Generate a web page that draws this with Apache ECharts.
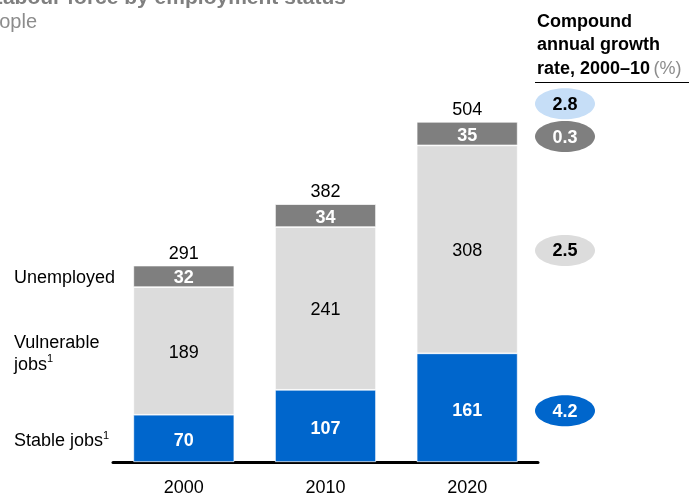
<!DOCTYPE html>
<html>
<head>
<meta charset="utf-8">
<script src="https://cdn.jsdelivr.net/npm/echarts@6/dist/echarts.min.js"></script>
<style>
  html, body { margin: 0; padding: 0; background: #fff; }
  #main { width: 689px; height: 493px; }
</style>
</head>
<body>
<div id="main"></div>
<script>
var years = ['2000', '2010', '2020'];
var stable = [70, 107, 161];
var vulnerable = [189, 241, 308];
var unemployed = [32, 34, 35];
var totals = [291, 382, 504];
// CAGR, bottom to top: stable, vulnerable, unemployed, total
var growth = ['4.2', '2.5', '0.3', '2.8'];

var FONT = 'Liberation Sans, Arial, sans-serif';
var BLUE = '#0066cc';
var LIGHT = '#dcdcdc';
var DARK = '#7f7f7f';
var PALE = '#c6def7';

var chart = echarts.init(document.getElementById('main'));

var option = {
  animation: false,
  textStyle: { fontFamily: FONT },
  grid: { left: 113, width: 425, top: 57, bottom: 31, outerBoundsMode: 'none', containLabel: false },
  xAxis: {
    type: 'category',
    data: years,
    axisLine: { lineStyle: { color: '#000', width: 3 } },
    axisTick: { show: false },
    axisLabel: { color: '#000', fontSize: 18, margin: 17, fontFamily: FONT }
  },
  yAxis: {
    type: 'value',
    min: 0,
    max: 600,
    show: false,
    splitLine: { show: false }
  },
  series: [
    {
      name: 'Stable jobs', type: 'bar', stack: 'a', barWidth: 101,
      data: stable,
      itemStyle: { color: BLUE, borderColor: '#fff', borderWidth: 0.7 },
      label: { show: true, position: 'inside', offset: [0, 3], color: '#fff', fontWeight: 'bold', fontSize: 18, fontFamily: FONT }
    },
    {
      name: 'Vulnerable jobs', type: 'bar', stack: 'a',
      data: vulnerable,
      itemStyle: { color: LIGHT, borderColor: '#fff', borderWidth: 0.7 },
      label: { show: true, position: 'inside', offset: [0, 2], color: '#000', fontSize: 18, fontFamily: FONT }
    },
    {
      name: 'Unemployed', type: 'bar', stack: 'a',
      data: unemployed,
      itemStyle: { color: DARK, borderColor: '#fff', borderWidth: 0.7 },
      label: { show: true, position: 'inside', offset: [0, 2], color: '#fff', fontWeight: 'bold', fontSize: 18, fontFamily: FONT }
    },
    {
      name: 'Total', type: 'bar', stack: 'a',
      data: totals.map(function () { return 0; }),
      itemStyle: { color: 'transparent' },
      label: {
        show: true, position: 'top', distance: 3, color: '#000', fontSize: 18, fontFamily: FONT,
        formatter: function (p) { return totals[p.dataIndex]; }
      }
    }
  ]
};
chart.setOption(option);

function yPix(v) {
  return chart.convertToPixel({ gridIndex: 0 }, [0, v])[1];
}

// segment centres for the first and last bar
var first = 0, last = years.length - 1;
var yStable0 = yPix(stable[first] / 2) + 3;
var yVuln0 = yPix(stable[first] + vulnerable[first] / 2) + 3;
var yUnemp0 = yPix(stable[first] + vulnerable[first] + unemployed[first] / 2) + 2;

var ovalY = [
  yPix(stable[last] / 2) + 3,
  yPix(stable[last] + vulnerable[last] / 2) + 1,
  yPix(stable[last] + vulnerable[last] + unemployed[last] / 2) + 3,
  yPix(totals[last]) - 18
];
var ovalFill = [BLUE, LIGHT, DARK, PALE];
var ovalText = ['#fff', '#000', '#fff', '#000'];

var graphics = [
  {
    type: 'text', x: 346, y: -2,
    style: { text: 'Labour force by employment status', textAlign: 'right', textVerticalAlign: 'middle',
      font: 'bold 21px ' + FONT, fill: '#7f7f7f' }
  },
  {
    type: 'text', x: 37, y: 22,
    style: { text: 'Million people', textAlign: 'right', textVerticalAlign: 'middle',
      font: '20px ' + FONT, fill: '#8c8c8c' }
  },
  {
    type: 'text', x: 537, y: 10,
    style: {
      text: '{b|Compound}\n{b|annual growth}\n{b|rate, 2000–10} {g|(%)}',
      rich: {
        b: { font: 'bold 18px ' + FONT, fill: '#000', lineHeight: 23.5 },
        g: { font: '18px ' + FONT, fill: '#8c8c8c', lineHeight: 23.5 }
      }
    }
  },
  {
    type: 'line', shape: { x1: 535, y1: 82.5, x2: 689, y2: 82.5 },
    style: { stroke: '#000', lineWidth: 1 }
  },
  {
    type: 'text', x: 14, y: yUnemp0,
    style: { text: 'Unemployed', textVerticalAlign: 'middle', font: '18px ' + FONT, fill: '#000' }
  },
  {
    type: 'text', x: 14, y: yVuln0,
    style: {
      text: '{n|Vulnerable}\n{n|jobs}{s|1}', textVerticalAlign: 'middle',
      rich: {
        n: { font: '18px ' + FONT, fill: '#000', lineHeight: 22 },
        s: { font: '11px ' + FONT, fill: '#000', lineHeight: 22, verticalAlign: 'top', padding: [0, 0, 6, 0] }
      }
    }
  },
  {
    type: 'text', x: 14, y: yStable0,
    style: {
      text: '{n|Stable jobs}{s|1}', textVerticalAlign: 'middle',
      rich: {
        n: { font: '18px ' + FONT, fill: '#000', lineHeight: 22 },
        s: { font: '11px ' + FONT, fill: '#000', lineHeight: 22, verticalAlign: 'top', padding: [0, 0, 6, 0] }
      }
    }
  }
];

growth.forEach(function (g, i) {
  graphics.push({
    type: 'ellipse',
    shape: { cx: 565, cy: ovalY[i], rx: 30, ry: 15.5 },
    style: { fill: ovalFill[i] }
  });
  graphics.push({
    type: 'text', x: 565, y: ovalY[i] + 1,
    style: { text: g, textAlign: 'center', textVerticalAlign: 'middle',
      font: 'bold 18px ' + FONT, fill: ovalText[i] }
  });
});

chart.setOption({ graphic: graphics });
</script>
</body>
</html>
